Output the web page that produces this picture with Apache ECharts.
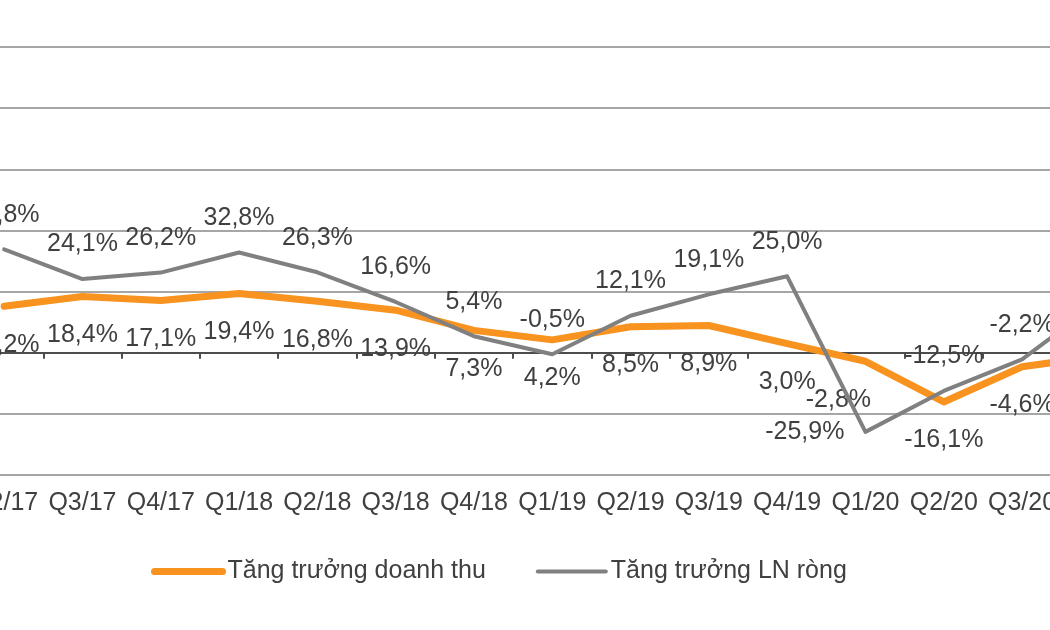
<!DOCTYPE html>
<html>
<head>
<meta charset="utf-8">
<script src="https://cdn.jsdelivr.net/npm/echarts@6/dist/echarts.min.js"></script>
<style>
html,body{margin:0;padding:0;background:#fff;}
#chart{width:1050px;height:630px;}
</style>
</head>
<body>
<div id="chart"></div>
<script>
// ---- data ----
const categories = ['Q2/17','Q3/17','Q4/17','Q1/18','Q2/18','Q3/18','Q4/18','Q1/19','Q2/19','Q3/19','Q4/19','Q1/20','Q2/20','Q3/20','Q4/20'];
const revenueGrowth = [15.2, 18.4, 17.1, 19.4, 16.8, 13.9, 7.3, 4.2, 8.5, 8.9, 3.0, -2.8, -16.1, -4.6, -1.0];
const profitGrowth  = [33.8, 24.1, 26.2, 32.8, 26.3, 16.6, 5.4, -0.5, 12.1, 19.1, 25.0, -25.9, -12.5, -2.2, 17.0];
const seriesNames = ['Tăng trưởng doanh thu', 'Tăng trưởng LN ròng'];

// ---- styling ----
const FONT = '"Liberation Sans", Arial, sans-serif';
const TXT = '#404040';
const fmt = v => v.toFixed(1).replace('.', ',') + '%';

// per-point label tweaks (style only)
const revLabelTweak = { 11: { offset: [-27, 0] } };
const profLabelTweak = { 11: { position: 'left', distance: 20 } };

const revData = revenueGrowth.map((v, i) => revLabelTweak[i] ? { value: v, label: revLabelTweak[i] } : v);
const profData = profitGrowth.map((v, i) => profLabelTweak[i] ? { value: v, label: profLabelTweak[i] } : v);

const chart = echarts.init(document.getElementById('chart'), null, { renderer: 'canvas' });
chart.setOption({
  backgroundColor: '#ffffff',
  animation: false,
  grid: { left: -35, right: -89.5, top: 47, bottom: 155, containLabel: false, outerBoundsMode: 'none' },
  xAxis: {
    type: 'category',
    data: categories,
    boundaryGap: true,
    axisLine: { show: true, onZero: true, lineStyle: { color: '#4d4d4d', width: 2 } },
    axisTick: { show: true, length: 6, lineStyle: { color: '#4d4d4d', width: 2 } },
    axisLabel: { interval: 0, margin: 16, color: TXT, fontSize: 25, fontFamily: FONT, hideOverlap: false },
    splitLine: { show: false }
  },
  yAxis: {
    type: 'value',
    min: -40, max: 100, interval: 20,
    axisLine: { show: false },
    axisTick: { show: false },
    axisLabel: { show: false },
    splitLine: { show: true, lineStyle: { color: '#a6a6a6', width: 2 } }
  },
  legend: {
    left: 146, top: 554,
    itemWidth: 68, itemHeight: 14, itemGap: 50,
    lineStyle: { width: 'inherit', cap: 'round' },
    textStyle: { color: TXT, fontSize: 25, fontFamily: FONT },
    data: seriesNames
  },
  series: [
    {
      name: seriesNames[0],
      type: 'line',
      data: revData,
      symbol: 'circle', symbolSize: 2, showSymbol: true,
      itemStyle: { color: 'rgba(0,0,0,0)' },
      lineStyle: { color: '#f7931e', width: 7, cap: 'round', join: 'round' },
      label: { show: true, position: 'bottom', distance: 25, color: TXT, fontSize: 25, fontFamily: FONT, formatter: p => fmt(p.value) },
      z: 3
    },
    {
      name: seriesNames[1],
      type: 'line',
      data: profData,
      symbol: 'circle', symbolSize: 2, showSymbol: true,
      itemStyle: { color: 'rgba(0,0,0,0)' },
      lineStyle: { color: '#808080', width: 4, cap: 'round', join: 'round' },
      label: { show: true, position: 'top', distance: 21, color: TXT, fontSize: 25, fontFamily: FONT, formatter: p => fmt(p.value) },
      z: 4
    }
  ]
});
</script>
</body>
</html>
